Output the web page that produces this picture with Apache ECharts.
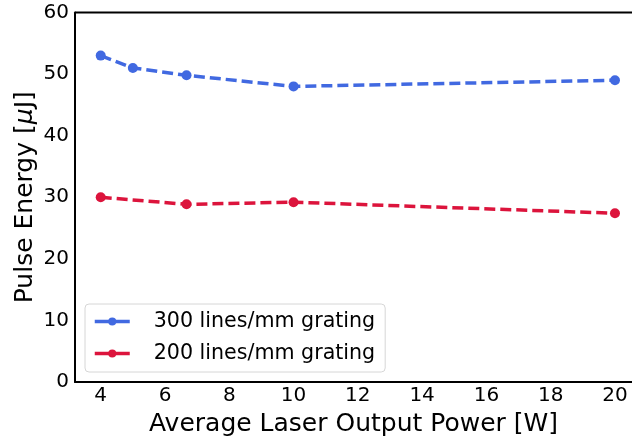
<!DOCTYPE html>
<html lang="en">
<head>
    <meta charset="UTF-8">
    <title>Pulse Energy</title>
    <style>
        html, body { margin: 0; padding: 0; background: #fff; }
        #chart { width: 632px; height: 438px; }
    </style>
</head>
<body>
    <div id="chart"></div>
    <script src="https://cdn.jsdelivr.net/npm/echarts/dist/echarts.min.js"></script>
    <script>
        // power [W] vs pulse energy [uJ]
        var power300 = [4, 5, 6.67, 10, 20]
        var energy300 = [53.0, 51.0, 49.8, 48.0, 49.0]
        var power200 = [4, 6.67, 10, 20]
        var energy200 = [30.0, 28.85, 29.2, 27.4]
        var xTicks = [4, 6, 8, 10, 12, 14, 16, 18, 20]
        var yTicks = [0, 10, 20, 30, 40, 50, 60]

        var font = 'DejaVu Sans'

        function pairs(xs, ys) {
            var out = []
            for (let i = 0; i < xs.length; i++) {
                out.push([xs[i], ys[i]])
            }
            return out
        }

        var myChart = echarts.init(document.getElementById('chart'))

        var option = {
            animation: false,
            grid: { left: 75, top: 12.5, right: 0, bottom: 56, containLabel: false, outerBoundsMode: 'none' },
            xAxis: {
                type: 'value',
                // right spine is cut off by the image edge
                min: 3.2,
                max: 20.53,
                name: 'Average Laser Output Power [W]',
                nameLocation: 'middle',
                nameGap: 30,
                nameMoveOverlap: false,
                nameTextStyle: { fontFamily: font, fontSize: 25, color: '#000' },
                axisLine: { lineStyle: { color: '#000', width: 2 } },
                axisTick: { show: false },
                splitLine: { show: false },
                axisLabel: {
                    fontFamily: font, fontSize: 20, color: '#000', margin: 4,
                    customValues: xTicks
                }
            },
            yAxis: {
                type: 'value',
                min: 0,
                max: 60,
                interval: 10,
                name: 'Pulse Energy [{i|μ}J]',
                nameLocation: 'middle',
                nameGap: 37,
                nameMoveOverlap: false,
                nameTextStyle: {
                    fontFamily: font, fontSize: 25, color: '#000',
                    rich: { i: { fontFamily: font, fontSize: 25, fontStyle: 'italic', color: '#000' } }
                },
                axisLine: { show: true, lineStyle: { color: '#000', width: 2 } },
                axisTick: { show: false },
                splitLine: { show: false },
                axisLabel: { fontFamily: font, fontSize: 20, color: '#000', margin: 6, customValues: yTicks }
            },
            legend: {
                orient: 'vertical',
                left: 85,
                top: 304,
                itemWidth: 35,
                itemHeight: 10,
                itemGap: 11,
                padding: [7, 10, 8, 8],
                borderColor: '#d6d6d6',
                borderWidth: 1,
                borderRadius: 4,
                lineStyle: { type: [15, 5], width: 3.5 },
                textStyle: { fontFamily: font, fontSize: 20.6, color: '#000', padding: [0, 0, 0, 19] },
                data: ['300 lines/mm grating', '200 lines/mm grating']
            },
            series: [
                {
                    name: '300 lines/mm grating',
                    type: 'line',
                    data: pairs(power300, energy300),
                    symbol: 'circle',
                    symbolSize: 10,
                    color: '#4169E1',
                    lineStyle: { width: 3.5, type: [11, 5] }
                },
                {
                    name: '200 lines/mm grating',
                    type: 'line',
                    data: pairs(power200, energy200),
                    symbol: 'circle',
                    symbolSize: 10,
                    color: '#DC143C',
                    lineStyle: { width: 3.5, type: [11, 5] }
                }
            ],
            graphic: [
                // top spine
                { type: 'line', shape: { x1: 75, y1: 12.5, x2: 632, y2: 12.5 }, style: { stroke: '#000', lineWidth: 2 } }
            ]
        }
        myChart.setOption(option)
    </script>
</body>
</html>
